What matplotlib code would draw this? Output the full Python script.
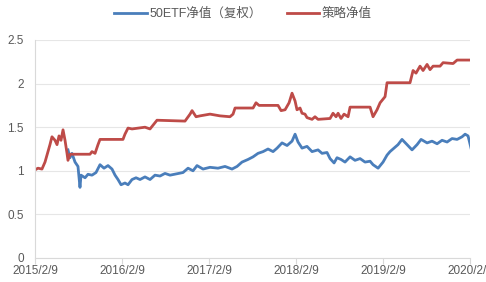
import matplotlib
matplotlib.use("Agg")
import matplotlib.pyplot as plt
import pandas as pd
import numpy as np

# time in years since 2015-02-09
red_t = [0.000, 0.034, 0.080, 0.115, 0.172, 0.195, 0.230, 0.253, 0.276, 0.299, 0.322, 0.345, 0.368, 0.379,
         0.402, 0.632, 0.655, 0.690, 0.724, 0.747, 1.011, 1.034, 1.069, 1.115, 1.264, 1.322, 1.402, 1.724,
         1.782, 1.805, 1.851, 1.897, 2.011, 2.126, 2.241, 2.276, 2.299, 2.506, 2.540, 2.575, 2.793, 2.828,
         2.874, 2.920, 2.954, 2.989, 3.011, 3.046, 3.069, 3.103, 3.126, 3.184, 3.218, 3.253, 3.391, 3.425,
         3.460, 3.483, 3.517, 3.552, 3.598, 3.621, 3.851, 3.885, 3.931, 3.966, 4.023, 4.046, 4.310, 4.345,
         4.379, 4.425, 4.460, 4.506, 4.540, 4.575, 4.655, 4.690, 4.805, 4.851, 5.023]
red_v = [1.01, 1.03, 1.02, 1.10, 1.30, 1.39, 1.35, 1.30, 1.40, 1.35, 1.47, 1.35, 1.20, 1.12,
         1.19, 1.19, 1.22, 1.20, 1.30, 1.36, 1.36, 1.42, 1.49, 1.48, 1.50, 1.48, 1.58, 1.57,
         1.65, 1.69, 1.62, 1.63, 1.65, 1.63, 1.62, 1.65, 1.72, 1.72, 1.78, 1.75, 1.75, 1.69,
         1.70, 1.78, 1.89, 1.80, 1.70, 1.72, 1.66, 1.65, 1.61, 1.59, 1.62, 1.59, 1.60, 1.66,
         1.62, 1.66, 1.60, 1.65, 1.62, 1.73, 1.73, 1.62, 1.70, 1.78, 1.85, 2.01, 2.01, 2.15,
         2.12, 2.20, 2.15, 2.22, 2.16, 2.20, 2.20, 2.24, 2.23, 2.27, 2.27]

blue_t = [0.379, 0.402, 0.425, 0.460, 0.494, 0.517, 0.529, 0.575, 0.609, 0.655, 0.701, 0.747, 0.793,
          0.839, 0.885, 0.920, 0.954, 0.989, 1.034, 1.069, 1.115, 1.161, 1.207, 1.264, 1.322, 1.379,
          1.437, 1.494, 1.552, 1.701, 1.759, 1.816, 1.862, 1.931, 2.011, 2.103, 2.184, 2.264, 2.322,
          2.379, 2.448, 2.506, 2.563, 2.621, 2.678, 2.736, 2.782, 2.839, 2.897, 2.954, 2.989, 3.023,
          3.069, 3.126, 3.184, 3.253, 3.299, 3.356, 3.391, 3.437, 3.471, 3.517, 3.563, 3.621, 3.678,
          3.736, 3.793, 3.851, 3.885, 3.943, 4.000, 4.046, 4.080, 4.126, 4.172, 4.218, 4.276, 4.333,
          4.391, 4.437, 4.506, 4.563, 4.621, 4.678, 4.736, 4.793, 4.851, 4.908, 4.943, 4.977, 5.011]
blue_v = [1.24, 1.15, 1.20, 1.10, 1.05, 0.81, 0.95, 0.92, 0.96, 0.95, 0.98, 1.07, 1.03,
          1.06, 1.02, 0.95, 0.90, 0.84, 0.86, 0.84, 0.90, 0.92, 0.90, 0.93, 0.90, 0.95,
          0.94, 0.97, 0.95, 0.98, 1.03, 1.00, 1.06, 1.02, 1.04, 1.03, 1.05, 1.02, 1.05,
          1.10, 1.13, 1.16, 1.20, 1.22, 1.25, 1.22, 1.26, 1.32, 1.29, 1.34, 1.42, 1.33,
          1.26, 1.28, 1.22, 1.24, 1.20, 1.21, 1.14, 1.09, 1.15, 1.13, 1.10, 1.16, 1.12,
          1.14, 1.10, 1.11, 1.07, 1.03, 1.10, 1.18, 1.22, 1.26, 1.30, 1.36, 1.30, 1.24,
          1.30, 1.36, 1.32, 1.34, 1.31, 1.35, 1.33, 1.37, 1.36, 1.39, 1.42, 1.40, 1.26]

x_ticks = ["2015/2/9", "2016/2/9", "2017/2/9", "2018/2/9", "2019/2/9", "2020/2/9"]
y_ticks = [0, 0.5, 1, 1.5, 2, 2.5]
y_labels = ["0", "0.5", "1", "1.5", "2", "2.5"]
series_names = ["50ETF净值（复权）", "策略净值"]

start = pd.Timestamp("2015-02-09")
def to_dates(ts):
    return [start + pd.Timedelta(days=float(t) * 365.25) for t in ts]

plt.rcParams['font.family'] = ['Liberation Sans', 'Noto Sans CJK SC', 'DejaVu Sans']

fig = plt.figure(figsize=(4.86, 2.82), dpi=100)
ax = fig.add_axes([35/486, 24/282, 435/486, 218/282])

blue_c = "#4A7EBB"
red_c = "#BE4B48"
ax.plot(to_dates(blue_t), blue_v, color=blue_c, lw=2.0, label=series_names[0], solid_joinstyle='round')
ax.plot(to_dates(red_t), red_v, color=red_c, lw=2.0, label=series_names[1], solid_joinstyle='round')

tick_dates = [pd.Timestamp(s.replace("/", "-")) for s in x_ticks]
ax.set_xlim(tick_dates[0], tick_dates[-1])
ax.set_xticks(tick_dates)
ax.set_xticklabels(x_ticks)
ax.set_ylim(0, 2.5)
ax.set_yticks(y_ticks)
ax.set_yticklabels(y_labels)

ax.grid(axis='y', color='#E6E6E6', lw=0.8)
ax.set_axisbelow(True)
for s in ['top', 'right']:
    ax.spines[s].set_visible(False)
ax.spines['left'].set_color('#D9D9D9')
ax.spines['bottom'].set_color('#D9D9D9')
ax.tick_params(axis='y', length=0, pad=8, labelsize=8.5, labelcolor='#595959')
ax.tick_params(axis='x', length=4, color='#D9D9D9', pad=1, labelsize=8.5, labelcolor='#595959')

leg = fig.legend(loc='center', bbox_to_anchor=(0.5, 1 - 14/282), ncol=2, frameon=False,
                 handlelength=2.6, columnspacing=2.0, handletextpad=0.2,
                 prop={'family': ['Liberation Sans', 'Noto Sans CJK SC'], 'size': 9})
for t in leg.get_texts():
    t.set_color('#595959')

fig.savefig("out.png", dpi=100)
